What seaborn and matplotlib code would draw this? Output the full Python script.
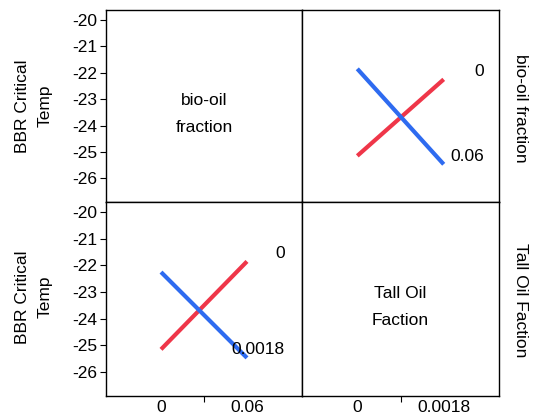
import matplotlib
matplotlib.use("Agg")
import matplotlib.pyplot as plt
import numpy as np
import pandas as pd
import seaborn as sns

# cell means of BBR Critical Temp for the 2x2 design
bio_levels = ["0", "0.06"]
tall_levels = ["0", "0.0018"]
bio_col = ["0", "0", "0.06", "0.06"]
tall_col = ["0", "0.0018", "0", "0.0018"]
temp_means = [-25.15, -22.25, -21.85, -25.47]

df = pd.DataFrame({"bio": bio_col, "tall": tall_col, "temp": temp_means})
df["bio_pos"] = df["bio"].map({v: i for i, v in enumerate(bio_levels)})
df["tall_pos"] = df["tall"].map({v: i for i, v in enumerate(tall_levels)})

y_ticks = [-20, -21, -22, -23, -24, -25, -26]
ylim = (-26.9, -19.62)
xlim = (-0.64, 1.64)

sns.set_style("white")
plt.rcParams["font.family"] = ["Liberation Sans", "DejaVu Sans"]
plt.rcParams["text.color"] = "black"
plt.rcParams["xtick.color"] = "black"
plt.rcParams["ytick.color"] = "black"
FS = 12.5

RED = "#EF3649"
BLUE = "#2E6BF0"

fig = plt.figure(figsize=(5.37, 4.15), dpi=100)
W, H = 537, 415


def add_panel(x0, y0, x1, y1):
    return fig.add_axes([x0 / W, 1 - y1 / H, (x1 - x0) / W, (y1 - y0) / H])


ax_tl = add_panel(106, 10, 302, 202)
ax_tr = add_panel(302, 10, 499, 202)
ax_bl = add_panel(106, 202, 302, 396)
ax_br = add_panel(302, 202, 499, 396)

# top-right: x = tall oil, traces = bio-oil
sns.lineplot(data=df, x="tall_pos", y="temp", hue="bio", hue_order=bio_levels,
             palette=[RED, BLUE], lw=3, ax=ax_tr, legend=False, sort=True)
# bottom-left: x = bio-oil, traces = tall oil
sns.lineplot(data=df, x="bio_pos", y="temp", hue="tall", hue_order=tall_levels,
             palette=[RED, BLUE], lw=3, ax=ax_bl, legend=False, sort=True)

for ax in (ax_tl, ax_tr, ax_bl, ax_br):
    ax.set_xlim(*xlim)
    ax.set_ylim(*ylim)
    ax.set_xlabel("")
    ax.set_ylabel("")
    for sp in ax.spines.values():
        sp.set_color("black")
        sp.set_linewidth(1.0)
    for ln in ax.get_lines():
        ln.set_solid_capstyle("butt")

# end labels
for lvl in bio_levels:
    end = df[(df["bio"] == lvl) & (df["tall_pos"] == 1)]["temp"].iloc[0]
    ax_tr.text(1.47, end + 0.3, lvl, ha="right", va="center", fontsize=FS)
for lvl in tall_levels:
    end = df[(df["tall"] == lvl) & (df["bio_pos"] == 1)]["temp"].iloc[0]
    ax_bl.text(1.44, end + 0.3, lvl, ha="right", va="center", fontsize=FS)

# diagonal labels
ax_tl.text(0.5, 0.46, "bio-oil\nfraction", transform=ax_tl.transAxes,
           ha="center", va="center", linespacing=2.0, fontsize=FS)
ax_br.text(0.5, 0.46, "Tall Oil\nFaction", transform=ax_br.transAxes,
           ha="center", va="center", linespacing=2.0, fontsize=FS)

# ticks
for ax in (ax_tl, ax_bl):
    ax.set_yticks(y_ticks)
    ax.set_yticklabels([str(t) for t in y_ticks])
    ax.tick_params(axis="y", direction="out", length=4.5, width=0.8,
                   pad=2, labelsize=FS, left=True)
for ax in (ax_tr, ax_br):
    ax.set_yticks([])
for ax in (ax_tl, ax_tr):
    ax.set_xticks([])

ax_bl.set_xticks([0, 1])
ax_bl.set_xticklabels(bio_levels)
ax_br.set_xticks([0, 1])
ax_br.set_xticklabels(tall_levels)
for ax in (ax_bl, ax_br):
    ax.set_xticks([0.5], minor=True)
    ax.tick_params(axis="x", which="major", length=0, pad=3, labelsize=FS)
    ax.tick_params(axis="x", which="minor", direction="out", length=4,
                   width=0.8, bottom=True)

# outer labels
fig.text(34 / W, 1 - 106 / H, "BBR Critical\nTemp", rotation=90,
         ha="center", va="center", linespacing=1.6, fontsize=FS)
fig.text(34 / W, 1 - 297 / H, "BBR Critical\nTemp", rotation=90,
         ha="center", va="center", linespacing=1.6, fontsize=FS)
fig.text(521 / W, 1 - 108 / H, "bio-oil fraction", rotation=270,
         ha="center", va="center", fontsize=FS)
fig.text(521 / W, 1 - 300 / H, "Tall Oil Faction", rotation=270,
         ha="center", va="center", fontsize=FS)

fig.savefig("out.png", dpi=100)
plt.close(fig)
